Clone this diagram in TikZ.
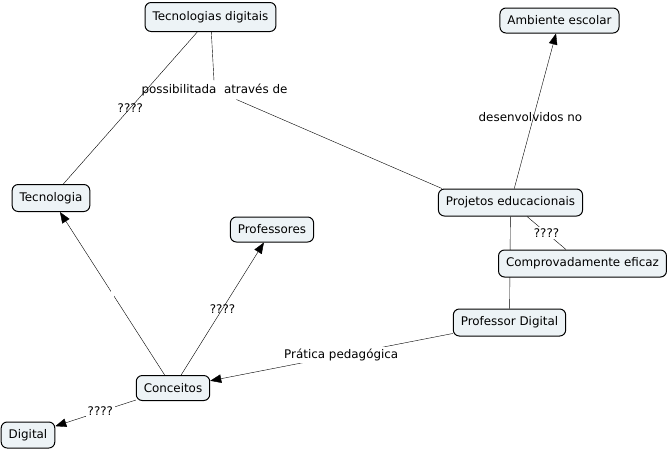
\documentclass[tikz,border=0pt]{standalone}
\usepackage{fontspec}
\setmainfont{DejaVu Sans}
\usetikzlibrary{arrows.meta,backgrounds}
\definecolor{cmapfill}{RGB}{237,243,246}

\begin{document}
\begin{tikzpicture}[x=1pt,y=-1pt,>={Triangle[length=11pt,width=8.5pt]},
  font=\fontsize{11.9}{13}\selectfont,
  concept/.style={draw,line width=1pt,rounded corners=6pt,fill=cmapfill,
    inner xsep=7.5pt,minimum height=26pt},
  phrase/.style={fill=white,inner sep=2pt}]
  \useasboundingbox (0,0) rectangle (670,451);
  \node[concept,minimum height=29pt] (tecdig) at (210.5,17) {Tecnologias digitais};
  \node[concept,minimum height=25pt] (amb) at (559.5,20.5) {Ambiente escolar};
  \node[concept,minimum height=27pt] (tecno) at (51,198) {Tecnologia};
  \node[concept,minimum height=25pt] (profs) at (272,229.5) {Professores};
  \node[concept,minimum height=27pt] (proj) at (510.5,202.5) {Projetos educacionais};
  \node[concept,minimum height=27pt] (comp) at (582.5,263.5) {Comprovadamente eficaz};
  \node[concept,minimum height=27pt] (profd) at (509.5,322.5) {Professor Digital};
  \node[concept,minimum height=25pt] (conc) at (173,388) {Conceitos};
  \node[concept] (dig) at (28,435) {Digital};
  \node (poss) at (214.5,90) {possibilitada\ \ através de};
  \begin{scope}[on background layer,line width=1.1pt]
    \draw (tecdig) -- (tecno) node[midway] {????};
    \draw (tecdig) -- (poss);
    \draw (poss) -- ([xshift=4pt]proj.north west);
    \draw[->] (proj) -- (amb) node[pos=.46,xshift=-3pt] {desenvolvidos no};
    \draw (proj) -- (comp) node[midway,phrase] {????};
    \draw (proj) -- (profd);
    \draw[->] (profd) -- (conc) node[pos=.46,phrase] {Prática pedagógica};
    \draw[->] (conc) -- (tecno)
      node[midway,fill=white,inner sep=0,minimum width=3pt,minimum height=7pt] {};
    \draw[->] (conc) -- (profs) node[midway] {????};
    \draw[->] (conc) -- (dig) node[pos=.44,phrase] {????};
  \end{scope}
\end{tikzpicture}
\end{document}
